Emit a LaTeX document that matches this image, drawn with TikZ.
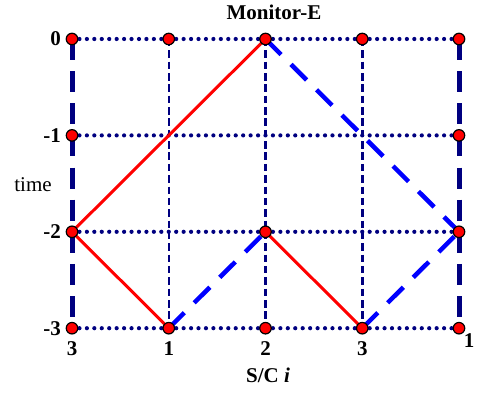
\documentclass[tikz,border=0pt]{standalone}
\usepackage{fontspec}
\setmainfont{Liberation Serif}
\definecolor{gridnavy}{RGB}{0,0,128}
\definecolor{pathblue}{RGB}{0,0,255}
\definecolor{pathred}{RGB}{255,0,0}
\tikzset{
  hgrid/.style={gridnavy, line width=4.2pt, line cap=round, dash pattern=on 0pt off 7.442pt},
  vgrid/.style={gridnavy, line width=2.5pt, dash pattern=on 7.5pt off 3.85pt},
  edgegrid/.style={gridnavy, line width=5pt, dash pattern=on 21pt off 11.13pt},
  redpath/.style={pathred, line width=3pt},
  bluepath/.style={pathblue, line width=4.5pt, dash pattern=on 22pt off 14pt},
  event/.style={circle, fill=pathred, draw=black, line width=1.2pt, minimum size=11.5pt, inner sep=0pt},
  lbl/.style={font=\fontsize{21}{24}\selectfont\bfseries, inner sep=0pt},
}
\begin{document}
\begin{tikzpicture}[x=1pt, y=-1pt]
\useasboundingbox (0,0) rectangle (477,395);
% grid points: column i (0..4), row j (0..3)
\foreach \i in {0,...,4}{
  \foreach \j in {0,...,3}{
    \coordinate (p\i\j) at ({72+96.75*\i},{39+96.4*\j});
  }
}
% horizontal time lines
\foreach \j in {0,...,3}{ \draw[hgrid] (p0\j) -- (p4\j); }
% inner spacecraft lines
\foreach \i in {1,2,3}{ \draw[vgrid] (p\i0) -- (p\i3); }
% outer spacecraft lines
\draw[edgegrid] (p00) -- (p03);
\draw[edgegrid] (p40) -- (p43);
% signal paths
\draw[redpath] (p02) -- (p20);
\draw[redpath] (p02) -- (p13);
\draw[redpath] (p22) -- (p33);
\draw[bluepath] (p20) -- (p42);
\draw[bluepath] (p13) -- (p22);
\draw[bluepath] (p33) -- (p42);
% events
\foreach \p in {p00,p10,p20,p30,p40,p01,p41,p02,p22,p42,p03,p13,p23,p33,p43}{
  \node[event] (e\p) at (\p) {};
}
% axis labels
\node[lbl, anchor=east] (t0) at (61,39) {0};
\node[lbl, anchor=east] (t1) at (61,135.4) {-1};
\node[lbl, anchor=east] (t2) at (61,231.8) {-2};
\node[lbl, anchor=east] (t3) at (61,328.2) {-3};
\node[font=\fontsize{21}{24}\selectfont, inner sep=0pt] (tm) at (33,185) {time};
\node[lbl] (s0) at (72,349) {3};
\node[lbl] (s1) at (168.75,349) {1};
\node[lbl] (s2) at (265.5,349) {2};
\node[lbl] (s3) at (362.25,349) {3};
\node[lbl] (s4) at (469,341) {1};
\node[lbl] (ttl) at (274,12) {Monitor-E};
\node[lbl] (xl) at (268,375) {S/C \textit{i}};
\end{tikzpicture}
\end{document}
